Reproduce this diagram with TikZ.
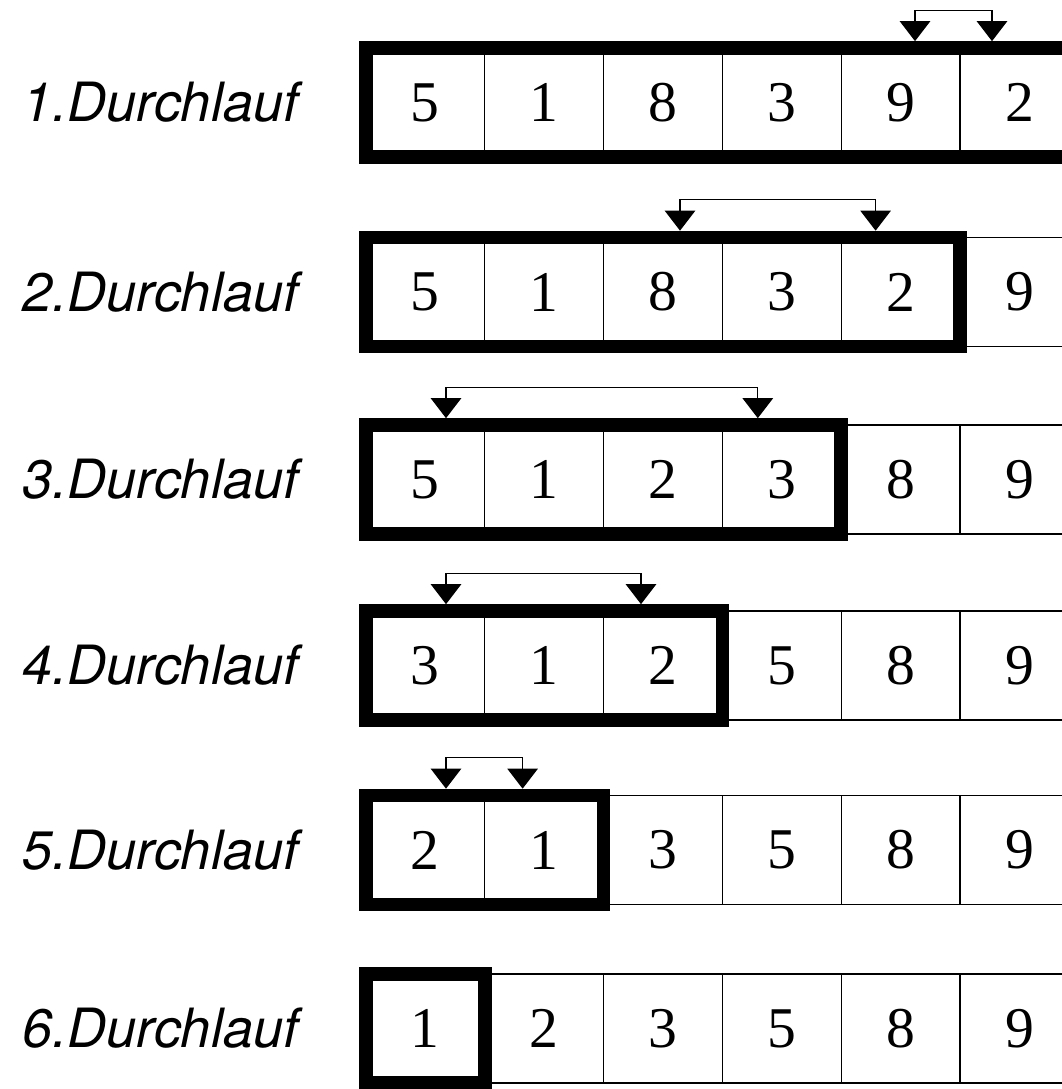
\documentclass[tikz,border=0pt]{standalone}
\usepackage{fontspec}
\setmainfont{Liberation Serif}
\setsansfont{TeX Gyre Heros}
\usetikzlibrary{arrows.meta,positioning}

\begin{document}
\begin{tikzpicture}[x=0.025cm, y=-0.025cm,
  >={Triangle[width=0.76cm,length=0.5cm]},
  cell/.style={draw, line width=0.9pt, minimum width=2.97cm, minimum height=2.725cm,
               inner sep=0pt, outer sep=0pt, font=\fontsize{41}{44}\selectfont},
  frame/.style={draw, line width=9.6pt},
  swap/.style={<->, line width=0.9pt},
  pass/.style={anchor=west, inner sep=0pt, font=\fontsize{38.5}{42}\selectfont\sffamily\itshape}]

  \useasboundingbox (0,0) rectangle (1062,1089);

  % the six rows of cells
  \foreach \r/\y/\vals in {1/102.5/{5,1,8,3,9,2}, 2/292/{5,1,8,3,2,9},
                          3/479.5/{5,1,2,3,8,9}, 4/665.5/{3,1,2,5,8,9},
                          5/850/{2,1,3,5,8,9}, 6/1028.5/{1,2,3,5,8,9}}
    \foreach \v [count=\i] in \vals
      \node[cell] (c\r\i) at (306.6+118.8*\i, \y) {\v};

  % unsorted part of each pass
  \draw[frame] (c11.north west) rectangle (c16.south east);
  \draw[frame] (c21.north west) rectangle (c25.south east);
  \draw[frame] (c31.north west) rectangle (c34.south east);
  \draw[frame] (c41.north west) rectangle (c43.south east);
  \draw[frame] (c51.north west) rectangle (c52.south east);
  \draw[frame] (c61.north west) rectangle (c61.south east);

  \node[pass] (p1) at (22,102.5) {1.Durchlauf};
  \node[pass] (p2) at (22,292)   {2.Durchlauf};
  \node[pass] (p3) at (22,479.5) {3.Durchlauf};
  \node[pass] (p4) at (22,665.5) {4.Durchlauf};
  \node[pass] (p5) at (22,850)   {5.Durchlauf};
  \node[pass] (p6) at (22,1028.5) {6.Durchlauf};

  % exchanges
  \draw[swap] ([xshift=0.36cm,yshift=0.17cm]c15.north) -- ++(0,0.775cm)
              -| ([xshift=-0.685cm,yshift=0.17cm]c16.north);
  \draw[swap] ([xshift=0.425cm,yshift=0.17cm]c23.north) -- ++(0,0.775cm)
              -| ([xshift=-0.625cm,yshift=0.17cm]c25.north);
  \draw[swap] ([xshift=0.515cm,yshift=0.17cm]c31.north) -- ++(0,0.775cm)
              -| ([xshift=-0.6cm,yshift=0.17cm]c34.north);
  \draw[swap] ([xshift=0.515cm,yshift=0.17cm]c41.north) -- ++(0,0.775cm)
              -| ([xshift=-0.55cm,yshift=0.17cm]c43.north);
  \draw[swap] ([xshift=0.515cm,yshift=0.17cm]c51.north) -- ++(0,0.775cm)
              -| ([xshift=-0.54cm,yshift=0.17cm]c52.north);

\end{tikzpicture}
\end{document}
